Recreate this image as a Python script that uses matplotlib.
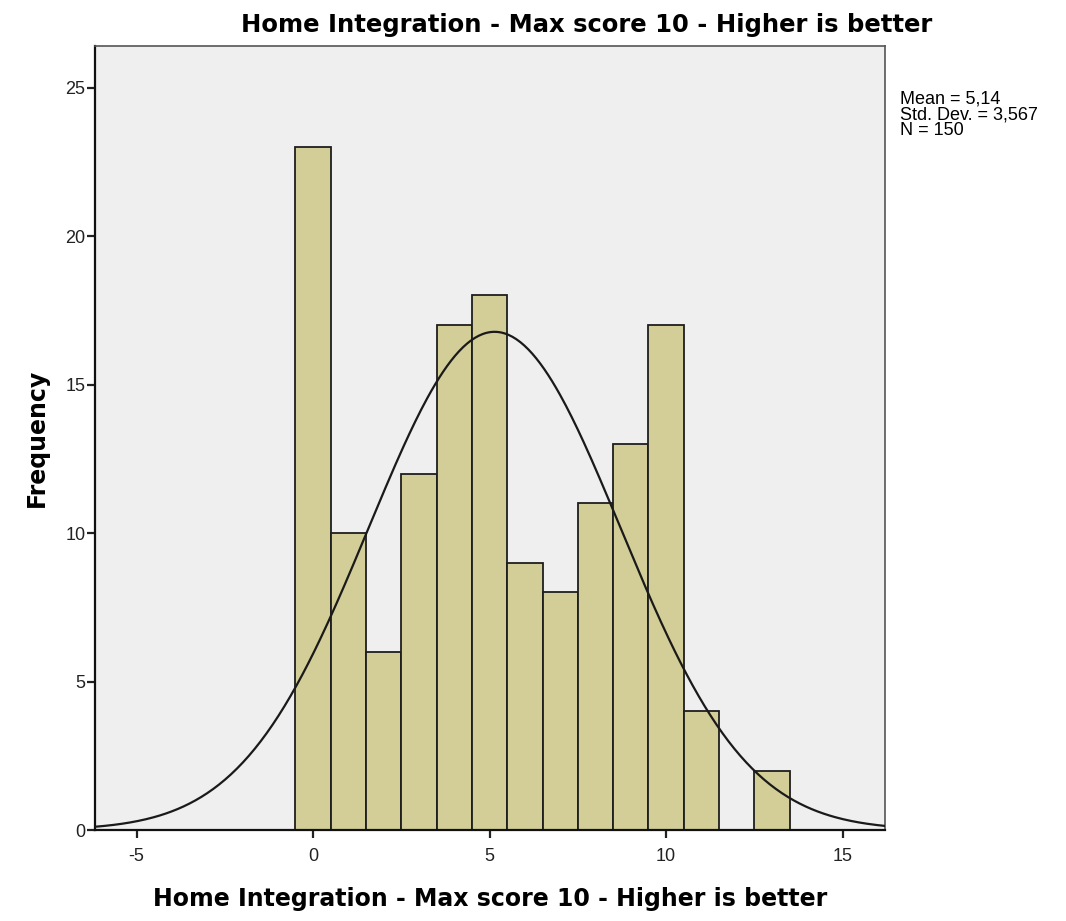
import numpy as np
import matplotlib.pyplot as plt

# histogram counts per integer score
scores = [0, 1, 2, 3, 4, 5, 6, 7, 8, 9, 10, 11, 12, 13]
counts = [23, 10, 6, 12, 17, 18, 9, 8, 11, 13, 17, 4, 0, 2]
mean = 5.14
std_dev = 3.567
n_total = 150

title = "Home Integration - Max score 10 - Higher is better"

plt.rcParams["axes.unicode_minus"] = False

fig = plt.figure(figsize=(10.66, 9.21), dpi=100)
ax = fig.add_axes([0.0891, 0.0988, 0.7411, 0.8512])
ax.set_facecolor("#efefef")

ax.bar(scores, counts, width=1.0, color="#d3ce97", edgecolor="#1e1e1e", linewidth=1.3, zorder=2)

xs = np.linspace(-6.2, 16.2, 400)
pdf = np.exp(-0.5 * ((xs - mean) / std_dev) ** 2) / (std_dev * np.sqrt(2 * np.pi))
ax.plot(xs, n_total * 1.0 * pdf, color="#1a1a1a", linewidth=1.6, zorder=3)

ax.set_xlim(-6.18, 16.2)
ax.set_ylim(0, 26.4)
ax.set_xticks([-5, 0, 5, 10, 15])
ax.set_yticks([0, 5, 10, 15, 20, 25])
ax.tick_params(direction="out", length=6, width=1.6, labelsize=13, colors="#222222")
for lbl in ax.get_xticklabels() + ax.get_yticklabels():
    lbl.set_family("Liberation Sans")
ax.tick_params(axis="x", pad=7)
ax.tick_params(axis="y", pad=1)

for side in ["left", "bottom"]:
    ax.spines[side].set_color("#111111")
    ax.spines[side].set_linewidth(1.6)
for side in ["top", "right"]:
    ax.spines[side].set_color("#555555")
    ax.spines[side].set_linewidth(1.2)

fig.text(0.55, 0.973, title, fontsize=17.5, fontweight="bold", family="DejaVu Sans",
         ha="center", va="center")
ax.set_xlabel(title, fontsize=17, fontweight="bold", labelpad=16, family="DejaVu Sans")
ax.set_ylabel("Frequency", fontsize=17, fontweight="bold", labelpad=12, family="DejaVu Sans")

fig.text(0.844, 0.902, "Mean = 5,14\nStd. Dev. = 3,567\nN = 150",
         fontsize=13, family="Liberation Sans", va="top", ha="left", linespacing=0.92)

fig.savefig("out.png", dpi=100)
